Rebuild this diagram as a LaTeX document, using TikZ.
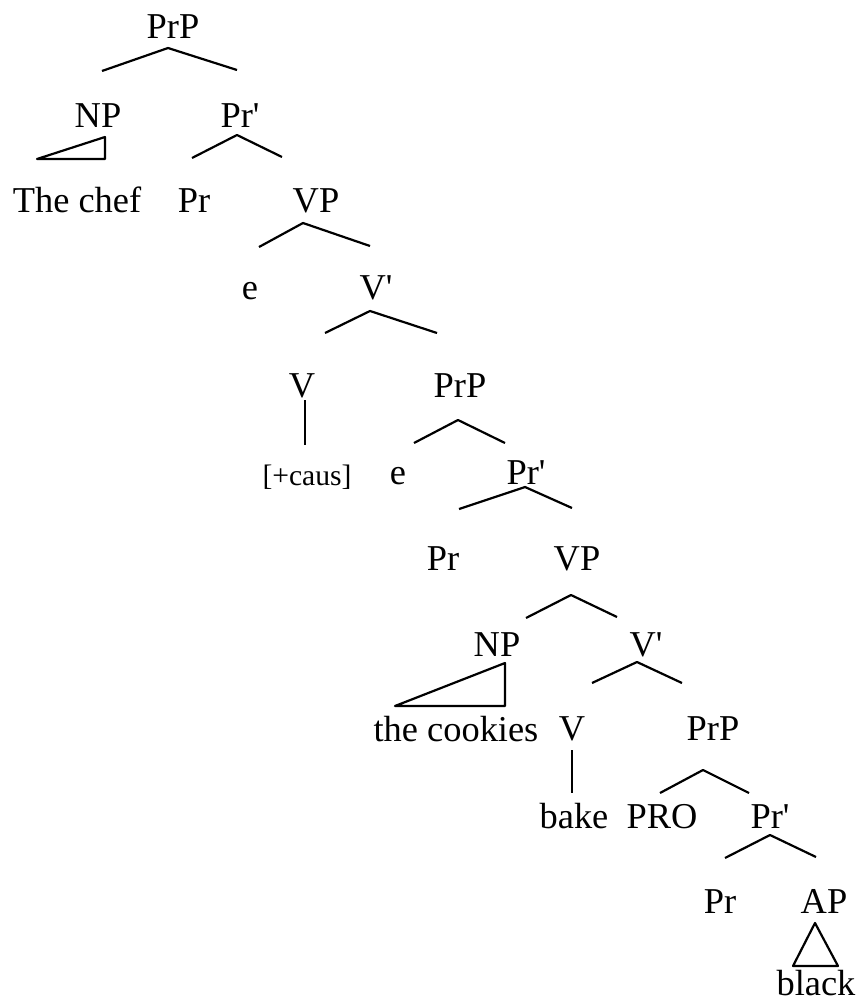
\documentclass[tikz,border=0pt]{standalone}
\usepackage{fontspec}
\setmainfont{Liberation Serif}
\usetikzlibrary{calc}
\newcommand{\prbar}{Pr\textquotesingle}
\newcommand{\vbar}{V\textquotesingle}
\begin{document}
\begin{tikzpicture}[x=0.5pt,y=-0.5pt,
  lbl/.style={inner sep=0pt,anchor=base,font=\fontsize{18.2}{22}\selectfont},
  feat/.style={inner sep=0pt,anchor=base,font=\fontsize{14.8}{18}\selectfont},
  branch/.style={line width=1.1pt,line join=round}]
\useasboundingbox (0,0) rectangle (862,1001);
% upper PrP
\node[lbl] (prp1) at (173,39) {PrP};
\node[lbl] (np1) at (98,127) {NP};
\node[lbl] (prbar1) at (240,127) {\prbar};
\node[lbl] (chef) at (77,212) {The chef};
\node[lbl] (pr1) at (194,212) {Pr};
\node[lbl] (vp1) at (316,212) {VP};
\node[lbl] (e1) at (250,299) {e};
\node[lbl] (vbar1) at (376,299) {\vbar};
\node[lbl] (v1) at (302,397) {V};
\node[feat] (caus) at (307,485) {[+caus]};
% lower PrP
\node[lbl] (prp2) at (460,397) {PrP};
\node[lbl] (e2) at (398,484) {e};
\node[lbl] (prbar2) at (526,484) {\prbar};
\node[lbl] (pr2) at (443,570) {Pr};
\node[lbl] (vp2) at (577,570) {VP};
\node[lbl] (np2) at (497,656) {NP};
\node[lbl] (vbar2) at (646,656) {\vbar};
\node[lbl] (cookies) at (456,741) {the cookies};
\node[lbl] (v2) at (572,740) {V};
\node[lbl] (prp3) at (713,740) {PrP};
\node[lbl] (bake) at (574,828) {bake};
\node[lbl] (pro) at (662,828) {PRO};
\node[lbl] (prbar3) at (770,828) {\prbar};
\node[lbl] (pr3) at (720,913) {Pr};
\node[lbl] (ap) at (824,913) {AP};
\node[lbl] (black) at (816,995) {black};

% branches
\draw[branch] ($(np1.base)+(4,-56)$) -- ($(prp1.base)+(-5,9)$) -- ($(prbar1.base)+(-3,-57)$);
\draw[branch] ($(pr1.base)+(-2,-54)$) -- ($(prbar1.base)+(-3,8)$) -- ($(vp1.base)+(-34,-55)$);
\draw[branch] ($(e1.base)+(9,-52)$) -- ($(vp1.base)+(-13,11)$) -- ($(vbar1.base)+(-6,-53)$);
\draw[branch] ($(v1.base)+(23,-64)$) -- ($(vbar1.base)+(-6,12)$) -- ($(prp2.base)+(-23,-64)$);
\draw[branch] ($(e2.base)+(16,-41)$) -- ($(prp2.base)+(-2,23)$) -- ($(prbar2.base)+(-21,-41)$);
\draw[branch] ($(pr2.base)+(16,-61)$) -- ($(prbar2.base)+(-1,3)$) -- ($(vp2.base)+(-5,-62)$);
\draw[branch] ($(np2.base)+(29,-38)$) -- ($(vp2.base)+(-6,25)$) -- ($(vbar2.base)+(-29,-39)$);
\draw[branch] ($(v2.base)+(20,-57)$) -- ($(vbar2.base)+(-9,6)$) -- ($(prp3.base)+(-31,-57)$);
\draw[branch] ($(pro.base)+(-2,-35)$) -- ($(prp3.base)+(-10,30)$) -- ($(prbar3.base)+(-21,-35)$);
\draw[branch] ($(pr3.base)+(5,-55)$) -- ($(prbar3.base)+(0,7)$) -- ($(ap.base)+(-8,-56)$);

% heads and triangles
\draw[branch] ($(v1.base)+(3,3)$) -- ($(caus.base)+(-2,-40)$);
\draw[branch] ($(v2.base)+(0,10)$) -- ($(bake.base)+(-2,-35)$);
\draw[branch] ($(np1.base)+(7,10)$) -- ($(chef.base)+(28,-53)$) -- ($(chef.base)+(-40,-53)$) -- cycle;
\draw[branch] ($(np2.base)+(8,7)$) -- ($(cookies.base)+(49,-35)$) -- ($(cookies.base)+(-61,-35)$) -- cycle;
\draw[branch] ($(ap.base)+(-9,10)$) -- ($(black.base)+(22,-29)$) -- ($(black.base)+(-23,-29)$) -- cycle;
\end{tikzpicture}
\end{document}
